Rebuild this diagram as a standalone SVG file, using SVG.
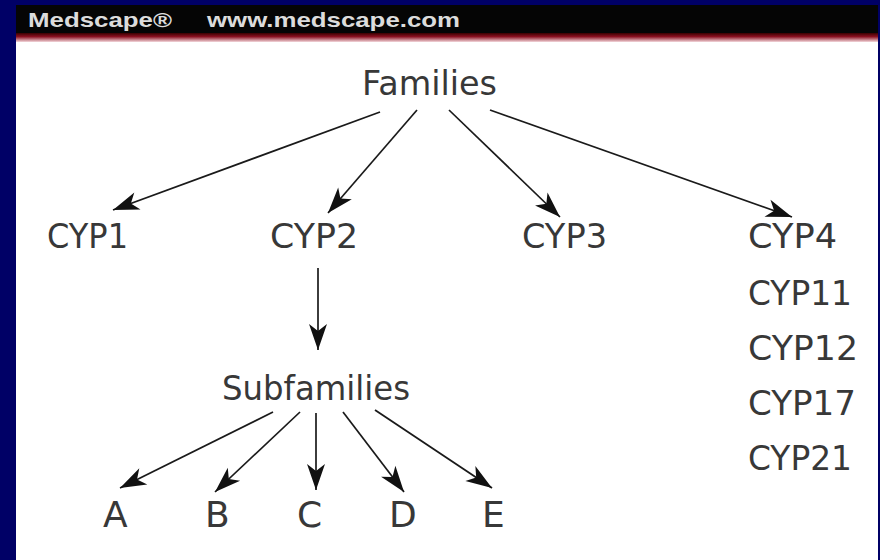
<svg xmlns="http://www.w3.org/2000/svg" width="880" height="560" viewBox="0 0 880 560">
<defs>
<linearGradient id="redline" x1="0" y1="0" x2="0" y2="1">
<stop offset="0" stop-color="#3a0000"/>
<stop offset="0.4" stop-color="#8a1020"/>
<stop offset="1" stop-color="#f4d8dc"/>
</linearGradient>
<marker id="ah" markerUnits="userSpaceOnUse" markerWidth="30" markerHeight="22" refX="26" refY="10" orient="auto" overflow="visible">
<path d="M0,1 L26,10 L0,19 L7,10 z" fill="#111"/>
</marker>
<style>
.lbl{font-family:"DejaVu Sans","Liberation Sans",sans-serif;font-size:33px;fill:#383838}
.big{font-size:36px}
.hdr{font-family:"Liberation Sans",Arial,sans-serif;font-size:21px;font-weight:bold;fill:#dcdcdc}
.edge{stroke:#1a1a1a;stroke-width:1.7;fill:none;marker-end:url(#ah)}
</style>
</defs>
<rect x="0" y="0" width="880" height="560" fill="#000066"/>
<rect x="16" y="5" width="862" height="555" fill="#ffffff"/>
<rect x="16" y="5" width="864" height="29" fill="#050505"/>
<rect x="16" y="33" width="864" height="9" fill="url(#redline)"/>
<rect x="878" y="5" width="2" height="555" fill="#000066"/>
<g id="header">
<text class="hdr" x="28" y="27" textLength="144" lengthAdjust="spacingAndGlyphs">Medscape®</text>
<text class="hdr" x="207" y="27" textLength="253" lengthAdjust="spacingAndGlyphs">www.medscape.com</text>
</g>
<g id="connectors">
<line class="edge" x1="380" y1="112" x2="113" y2="210"/>
<line class="edge" x1="417" y1="110" x2="328" y2="213"/>
<line class="edge" x1="449" y1="110" x2="560" y2="217"/>
<line class="edge" x1="490" y1="110" x2="792" y2="217"/>
<line class="edge" x1="318" y1="268" x2="318" y2="350"/>
<line class="edge" x1="273" y1="412" x2="120" y2="488"/>
<line class="edge" x1="300" y1="412" x2="215" y2="492"/>
<line class="edge" x1="316" y1="413" x2="316" y2="490"/>
<line class="edge" x1="343" y1="412" x2="404" y2="492"/>
<line class="edge" x1="375" y1="410" x2="492" y2="488"/>
</g>
<g id="families"><text class="lbl" x="362" y="95" textLength="135" lengthAdjust="spacingAndGlyphs">Families</text></g>
<g id="cyp1"><text class="lbl" x="47" y="248" textLength="81" lengthAdjust="spacingAndGlyphs">CYP1</text></g>
<g id="cyp2"><text class="lbl" x="270" y="248" textLength="88" lengthAdjust="spacingAndGlyphs">CYP2</text></g>
<g id="cyp3"><text class="lbl" x="522" y="248" textLength="85" lengthAdjust="spacingAndGlyphs">CYP3</text></g>
<g id="cyp4"><text class="lbl" x="748" y="248" textLength="89" lengthAdjust="spacingAndGlyphs">CYP4</text></g>
<g id="cyp11"><text class="lbl" x="748" y="305" textLength="104" lengthAdjust="spacingAndGlyphs">CYP11</text></g>
<g id="cyp12"><text class="lbl" x="748" y="360" textLength="110" lengthAdjust="spacingAndGlyphs">CYP12</text></g>
<g id="cyp17"><text class="lbl" x="748" y="415" textLength="108" lengthAdjust="spacingAndGlyphs">CYP17</text></g>
<g id="cyp21"><text class="lbl" x="748" y="470" textLength="104" lengthAdjust="spacingAndGlyphs">CYP21</text></g>
<g id="subfamilies"><text class="lbl" x="222" y="400" textLength="188" lengthAdjust="spacingAndGlyphs">Subfamilies</text></g>
<g id="a"><text class="lbl big" x="103" y="527">A</text></g>
<g id="b"><text class="lbl big" x="205" y="527">B</text></g>
<g id="c"><text class="lbl big" x="297" y="527">C</text></g>
<g id="d"><text class="lbl big" x="389" y="527">D</text></g>
<g id="e"><text class="lbl big" x="482" y="527">E</text></g>
</svg>
